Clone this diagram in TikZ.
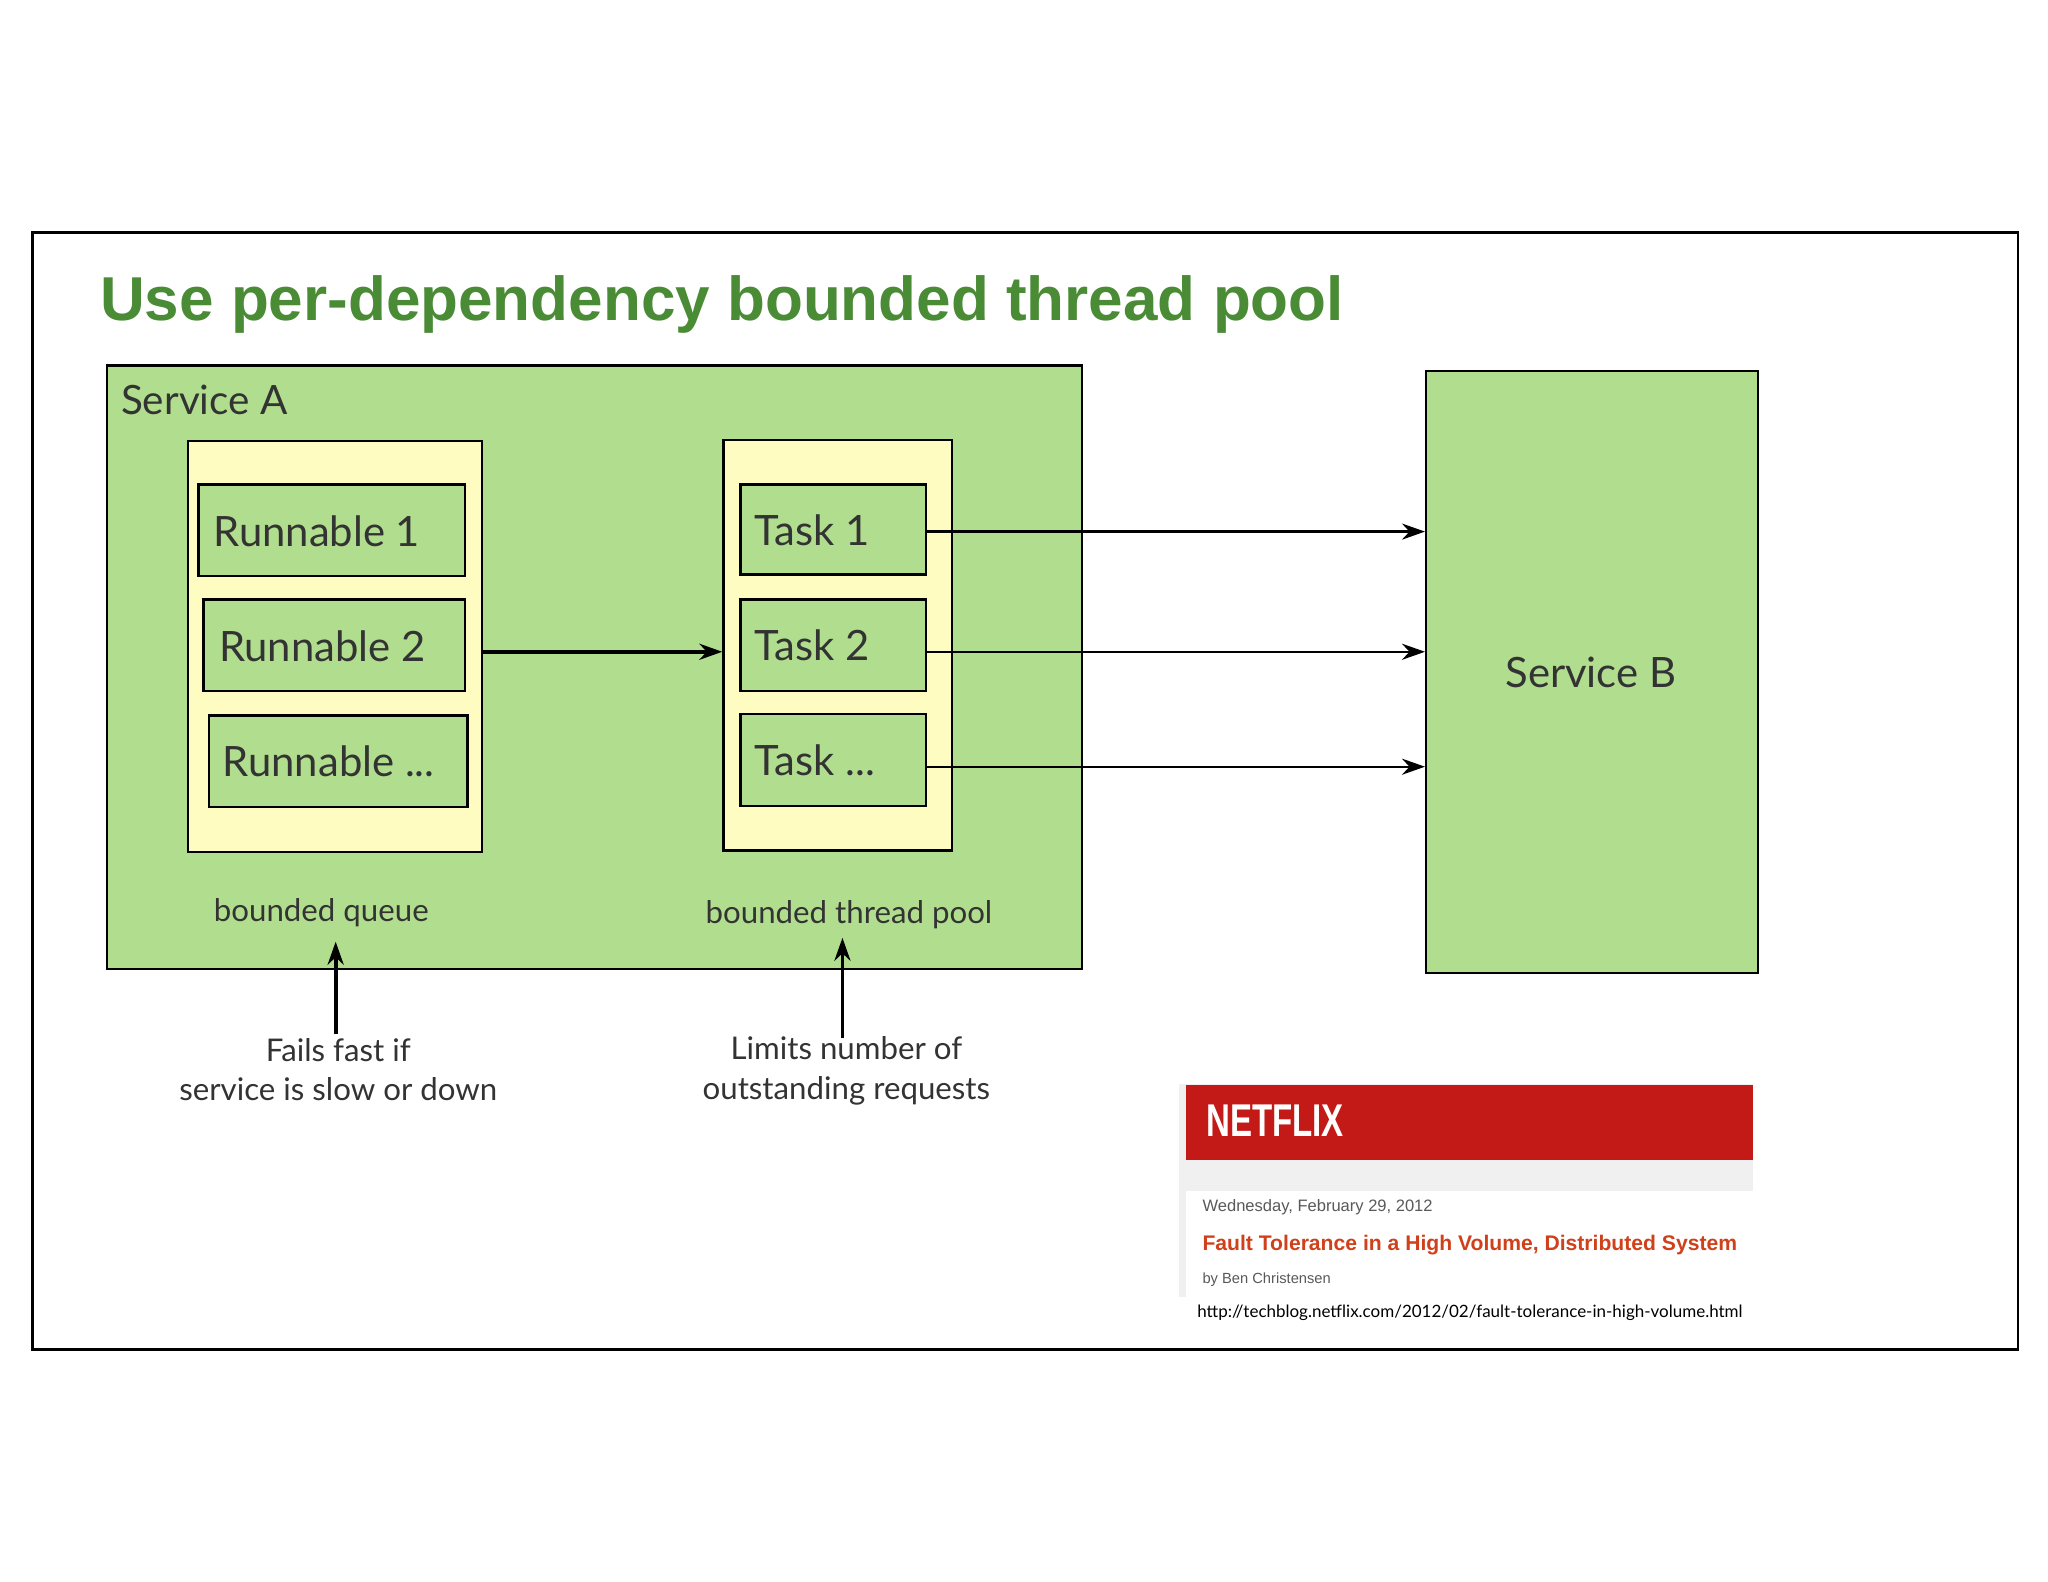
\documentclass[tikz,border=0pt]{standalone}
\usepackage{fontspec}
\setmainfont{Lato}
\newfontfamily\arialf{Liberation Sans}
\usetikzlibrary{arrows.meta}
\definecolor{gfill}{HTML}{B1DE8E}
\definecolor{yfill}{HTML}{FFFCC2}
\definecolor{tgreen}{HTML}{4A8B35}
\definecolor{nred}{HTML}{C41A17}
\definecolor{ftred}{HTML}{D0401A}
\definecolor{txt}{HTML}{333333}
\tikzset{
  box/.style={draw=black, line width=0.5pt, inner sep=0},
  gbox/.style={box, fill=gfill},
  ybox/.style={box, fill=yfill},
  lbl/.style={text=txt, font=\fontsize{9.1}{11}\selectfont, anchor=west, inner sep=0},
  small/.style={text=txt, font=\fontsize{6.8}{8.6}\selectfont, align=center},
  conn/.style={-{Stealth[length=5pt,width=3.5pt]}, line width=0.5pt},
  nft/.style={anchor=west, inner sep=0},
}
\begin{document}
\begin{tikzpicture}[x=0.01cm,y=-0.01cm]
\useasboundingbox (0,0) rectangle (1568,1211);
\fill[white] (0,0) rectangle (1568,1211);
\draw[line width=0.6pt] (25,178) rectangle (1545,1033);
\node[nft, text=tgreen, font=\arialf\bfseries\fontsize{13.5}{16}\selectfont] (title) at (76,233) {Use per-dependency bounded thread pool};
% Service A
\node[gbox, minimum width=7.46cm, minimum height=4.62cm, anchor=north west] (sa) at (81,279) {};
\node[lbl, font=\fontsize{8.8}{11}\selectfont] (salbl) at (92,306) {Service A};
\node[ybox, minimum width=2.25cm, minimum height=3.14cm, anchor=north west] (q) at (143,337) {};
\node[gbox, minimum width=2.04cm, minimum height=0.70cm, anchor=north west] (r1) at (151,370) {};
\node[lbl] at (163,407) {Runnable 1};
\node[gbox, minimum width=2.00cm, minimum height=0.70cm, anchor=north west] (r2) at (155,458) {};
\node[lbl] at (167,495) {Runnable 2};
\node[gbox, minimum width=1.98cm, minimum height=0.70cm, anchor=north west] (r3) at (159,547) {};
\node[lbl] at (170,583) {Runnable ...};
\node[ybox, minimum width=1.75cm, minimum height=3.14cm, anchor=north west] (tp) at (553,336) {};
\node[gbox, minimum width=1.42cm, minimum height=0.69cm, anchor=north west] (t1) at (566,370) {};
\node[lbl] at (577,406) {Task 1};
\node[gbox, minimum width=1.42cm, minimum height=0.70cm, anchor=north west] (t2) at (566,458) {};
\node[lbl] at (577,494) {Task 2};
\node[gbox, minimum width=1.42cm, minimum height=0.70cm, anchor=north west] (t3) at (566,546) {};
\node[lbl] at (577,582) {Task ...};
\node[small] (bq) at (246,699) {bounded queue};
\node[small] (btp) at (650,700) {bounded thread pool};
% Service B
\node[gbox, minimum width=2.54cm, minimum height=4.61cm, anchor=north west] (sb) at (1091,283) {};
\node[text=txt, font=\fontsize{9.1}{11}\selectfont] at (1218,515) {Service B};
% arrows
\draw[conn, line width=0.8pt] (q.east |- 0,499) -- (tp.west |- 0,499);
\draw[conn] (t1.east |- 0,407) -- (sb.west |- 0,407);
\draw[conn] (t2.east |- 0,499) -- (sb.west |- 0,499);
\draw[conn] (t3.east |- 0,587) -- (sb.west |- 0,587);
% annotations
\node[small] (ff) at (259,819) {Fails fast if\\service is slow or down};
\node[small] (lim) at (648,820) {Limits number of\\outstanding requests};
\draw[conn, line width=0.8pt] (257,792) -- (257,721);
\draw[conn, line width=0.8pt] (645,795) -- (645,718);
% Netflix
\fill[black!6] (903,830) rectangle (1342,993);
\fill[nred] (908,831) rectangle (1342,888);
\fill[white] (908,912) rectangle (1342,993);
\node[nft, text=white, font=\arialf\bfseries\fontsize{10}{12}\selectfont, xscale=0.72, transform shape] (nf) at (923,858) {NETFLIX};
\node[nft, text=black!65, font=\arialf\fontsize{3.6}{5}\selectfont] (date) at (920,924) {Wednesday, February 29, 2012};
\node[nft, text=ftred, font=\arialf\bfseries\fontsize{4.6}{6}\selectfont] (ft) at (920,953) {Fault Tolerance in a High Volume, Distributed System};
\node[nft, text=black!65, font=\arialf\fontsize{3.2}{5}\selectfont] (by) at (920,980) {by Ben Christensen};
\node[nft, text=black, font=\fontsize{3.7}{5}\selectfont] (url) at (916,1005) {http://techblog.netflix.com/2012/02/fault-tolerance-in-high-volume.html};
\end{tikzpicture}
\end{document}
